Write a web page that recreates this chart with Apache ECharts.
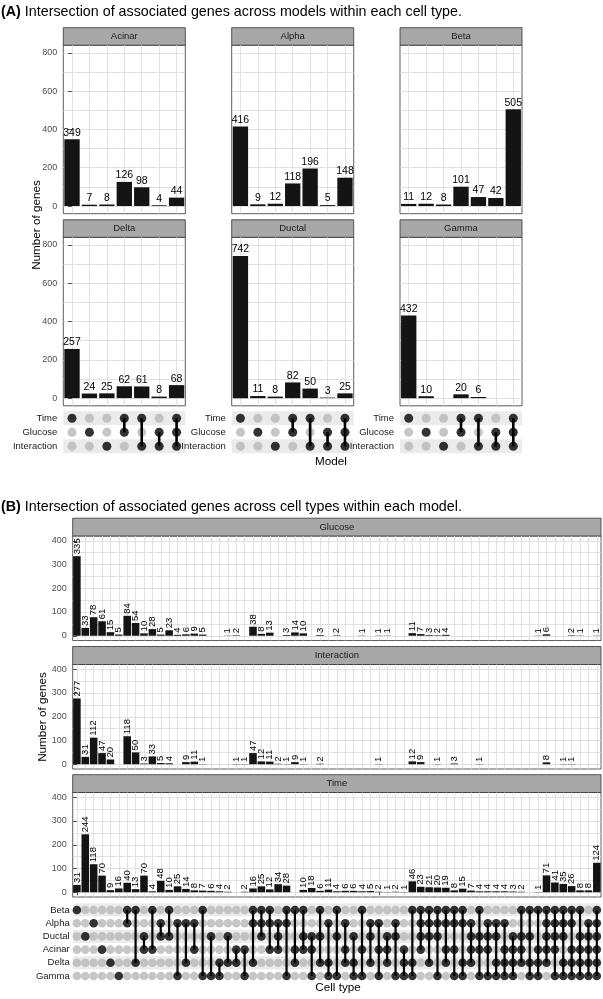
<!DOCTYPE html>
<html>
<head>
<meta charset="UTF-8">
<title>Intersection of associated genes</title>
<script src="https://cdn.jsdelivr.net/npm/echarts@6/dist/echarts.min.js"></script>
<style>
  html, body { margin: 0; padding: 0; background: #fff; }
  #chart { width: 603px; height: 999px; }
</style>
</head>
<body>
<div id="chart"></div>
<script>
// ---- panel A data: genes per model combination, one array per cell type ----
const modelRows = ['Time', 'Glucose', 'Interaction'];
const modelCombos = ['Time', 'Glucose', 'Interaction', 'Time+Glucose', 'Time+Interaction',
  'Glucose+Interaction', 'Time+Glucose+Interaction'];
const acinarCounts = [349, 7, 8, 126, 98, 4, 44];
const alphaCounts = [416, 9, 12, 118, 196, 5, 148];
const betaCounts = [11, 12, 8, 101, 47, 42, 505];
const deltaCounts = [257, 24, 25, 62, 61, 8, 68];
const ductalCounts = [742, 11, 8, 82, 50, 3, 25];
const gammaCounts = [432, 10, null, 20, 6, null, null];
const countTicksA = [0, 200, 400, 600, 800];

// ---- panel B data: genes per cell-type combination, one array per model ----
const cellRows = ['Beta', 'Alpha', 'Ductal', 'Acinar', 'Delta', 'Gamma'];
const cellCombos = [
  'Beta', 'Ductal', 'Alpha', 'Acinar', 'Delta', 'Gamma',
  'Beta+Alpha', 'Beta+Delta', 'Ductal+Acinar', 'Beta+Acinar', 'Alpha+Ductal', 'Beta+Ductal',
  'Alpha+Gamma', 'Alpha+Delta', 'Alpha+Acinar', 'Beta+Gamma', 'Ductal+Gamma', 'Delta+Gamma',
  'Ductal+Delta', 'Acinar+Delta', 'Acinar+Gamma',
  'Beta+Alpha+Delta', 'Beta+Alpha+Ductal', 'Beta+Alpha+Acinar', 'Alpha+Ductal+Acinar',
  'Beta+Alpha+Gamma', 'Beta+Acinar+Delta', 'Beta+Ductal+Acinar', 'Ductal+Acinar+Gamma',
  'Beta+Ductal+Delta', 'Alpha+Delta+Gamma', 'Beta+Ductal+Gamma', 'Alpha+Acinar+Delta',
  'Ductal+Delta+Gamma', 'Beta+Acinar+Gamma', 'Alpha+Ductal+Delta', 'Alpha+Acinar+Gamma',
  'Ductal+Acinar+Delta', 'Alpha+Ductal+Gamma', 'Acinar+Delta+Gamma', 'Beta+Delta+Gamma',
  'Beta+Alpha+Ductal+Acinar', 'Beta+Alpha+Ductal+Delta', 'Beta+Alpha+Ductal+Gamma',
  'Beta+Alpha+Acinar+Delta', 'Beta+Alpha+Acinar+Gamma', 'Beta+Alpha+Delta+Gamma',
  'Alpha+Ductal+Acinar+Delta', 'Beta+Ductal+Acinar+Gamma', 'Alpha+Ductal+Acinar+Gamma',
  'Alpha+Ductal+Delta+Gamma', 'Alpha+Acinar+Delta+Gamma', 'Ductal+Acinar+Delta+Gamma',
  'Beta+Ductal+Acinar+Delta', 'Beta+Ductal+Delta+Gamma', 'Beta+Acinar+Delta+Gamma',
  'Beta+Alpha+Ductal+Acinar+Delta', 'Beta+Alpha+Ductal+Acinar+Gamma',
  'Beta+Alpha+Ductal+Delta+Gamma', 'Beta+Alpha+Acinar+Delta+Gamma',
  'Beta+Ductal+Acinar+Delta+Gamma', 'Alpha+Ductal+Acinar+Delta+Gamma',
  'Beta+Alpha+Ductal+Acinar+Delta+Gamma'
];
const glucoseCounts = [335, 33, 78, 61, 15, 5, 84, 54, 10, 28, 5, 23, 4, 6, 9, 5,
  null, null, 1, 2, null, 38, 8, 13, null, 3, 14, 10, null, 3, null, 2, null, null, 1, null,
  1, 1, null, null, 11, 7, 3, 2, 4, null, null, null, null, null, null, null, null, null, null,
  1, 6, null, null, 2, 1, null, 1];
const interactionCounts = [277, 31, 112, 47, 20, null, 118, 50, 3, 33, 5, 4, null, 9, 11, 1,
  null, null, null, 1, 1, 47, 12, 11, 2, 1, 9, 1, null, 2, null, null, null, null, null, null,
  1, null, null, null, 12, 9, null, 1, null, 3, null, null, 1, null, null, null, null, null, null,
  null, 8, null, 1, 1, null, null, null];
const timeCounts = [31, 244, 118, 70, 9, 16, 40, 13, 70, 4, 48, 10, 25, 14, 8, 7, 6, 4, 2,
  null, 2, 16, 25, 12, 34, 28, null, 10, 18, 6, 11, 4, 6, 6, 4, 5, 2, 1, 2, 1,
  46, 23, 21, 20, 19, 8, 15, 7, 4, 4, 4, 4, 3, 2, null, 1,
  71, 41, 35, 26, 8, 8, 124];
const countTicksB = [0, 100, 200, 300, 400];

// ---- style ----
const FONT = '"Liberation Sans", Arial, Helvetica, sans-serif';
const BAR = '#141414';
const GRIDLINE = '#dadada';
const STRIP = '#a8a8a8';
const BORDER = '#333333';
const DOT_ON = '#000000';
const DOT_OFF = '#b8b8b8';
const BAND = '#ebebeb';

const grids = [], xAxes = [], yAxes = [], series = [], graphic = [];

function text(x, y, str, size, opts) {
  opts = opts || {};
  graphic.push({
    type: 'text', x: x, y: y, rotation: opts.rotation || 0, silent: true,
    style: {
      text: str, font: (opts.weight || 'normal') + ' ' + size + 'px ' + FONT,
      fill: opts.color || '#000', rich: opts.rich,
      align: opts.align || 'center', textAlign: opts.align || 'center',
      verticalAlign: 'middle', textVerticalAlign: 'middle'
    }
  });
}

function strip(x, y, w, h, label) {
  graphic.push({ type: 'rect', silent: true, shape: { x: x, y: y, width: w, height: h },
    style: { fill: STRIP, stroke: BORDER, lineWidth: 0.8 } });
  text(x + w / 2, y + h / 2, label, 9.5, { color: '#1a1a1a' });
}

function barPanel(o) {
  const gi = grids.length;
  grids.push({ left: o.x, top: o.y, width: o.w, height: o.h, show: true,
    borderColor: BORDER, borderWidth: 0.8, backgroundColor: '#fff' });
  const xi = xAxes.length;
  xAxes.push({ type: 'category', gridIndex: gi, data: o.cats,
    axisLine: { show: false }, axisLabel: { show: false },
    axisTick: { show: !!o.xTicks, alignWithLabel: true, length: 3, lineStyle: { color: BORDER, width: 0.8 } },
    splitLine: { show: false } });
  // vertical grid lines at every column centre
  xAxes.push({ type: 'value', gridIndex: gi, position: 'top', min: -0.5, max: o.cats.length - 0.5,
    axisLine: { show: false }, axisLabel: { show: false },
    axisTick: { show: false, customValues: o.cats.map((c, i) => i) },
    splitLine: { show: true, lineStyle: { color: GRIDLINE, width: 0.8 } } });
  const yi = yAxes.length;
  yAxes.push({ type: 'value', gridIndex: gi, min: o.yMin, max: o.yMax,
    axisLine: { show: false },
    axisTick: { show: o.yLabels, length: 4, customValues: o.labelTicks, lineStyle: { color: BORDER, width: 0.8 } },
    axisLabel: { show: o.yLabels, customValues: o.labelTicks, fontSize: 9, fontFamily: FONT,
      color: '#4d4d4d', margin: 6 },
    splitLine: { show: false } });
  // horizontal grid lines (major + minor)
  yAxes.push({ type: 'value', gridIndex: gi, position: 'right', min: o.yMin, max: o.yMax,
    axisLine: { show: false }, axisLabel: { show: false },
    axisTick: { show: false, customValues: o.gridTicks },
    splitLine: { show: true, lineStyle: { color: GRIDLINE, width: 0.8 } } });
  series.push({ type: 'bar', xAxisIndex: xi, yAxisIndex: yi, data: o.values,
    barCategoryGap: o.gap, itemStyle: { color: BAR }, label: o.label, silent: true });
}

function matrixPanel(o) {
  const gi = grids.length;
  grids.push({ left: o.x, top: o.y, width: o.w, height: o.h, show: false });
  const xi = xAxes.length;
  xAxes.push({ type: 'category', gridIndex: gi, data: o.combos,
    axisLine: { show: false }, axisTick: { show: false }, axisLabel: { show: false },
    splitLine: { show: false } });
  const yi = yAxes.length;
  yAxes.push({ type: 'category', gridIndex: gi, data: o.rows, inverse: true,
    axisLine: { show: false }, axisTick: { show: false },
    axisLabel: { fontSize: 9.5, fontFamily: FONT, color: '#1a1a1a', margin: o.labelMargin },
    splitLine: { show: false },
    splitArea: { show: true, areaStyle: { color: [BAND, '#ffffff'] } } });
  const on = [], off = [], links = [];
  o.combos.forEach((c, i) => {
    const members = c.split('+').map(n => o.rows.indexOf(n));
    o.rows.forEach((r, ri) => (members.indexOf(ri) >= 0 ? on : off).push([i, ri]));
    if (members.length > 1) links.push([i, Math.min.apply(null, members), Math.max.apply(null, members)]);
  });
  series.push({ type: 'scatter', xAxisIndex: xi, yAxisIndex: yi, data: off, symbolSize: o.dot,
    itemStyle: { color: DOT_OFF }, z: 2, silent: true });
  series.push({ type: 'custom', xAxisIndex: xi, yAxisIndex: yi, data: links, z: 3, silent: true,
    encode: { x: 0, y: [1, 2] },
    renderItem: function (params, api) {
      const a = api.coord([api.value(0), api.value(1)]);
      const b = api.coord([api.value(0), api.value(2)]);
      return { type: 'line', shape: { x1: a[0], y1: a[1], x2: b[0], y2: b[1] },
        style: { stroke: DOT_ON, lineWidth: o.lineWidth } };
    } });
  series.push({ type: 'scatter', xAxisIndex: xi, yAxisIndex: yi, data: on, symbolSize: o.dot,
    itemStyle: { color: DOT_ON }, z: 4, silent: true });
}

// ---------------- panel A ----------------
text(1, 12, '{b|(A)} Intersection of associated genes across models within each cell type.', 14.3,
  { align: 'left', rich: { b: { fontWeight: 'bold', fontSize: 14.3, fontFamily: FONT } } });

const panelsA = [
  { name: 'Acinar', values: acinarCounts }, { name: 'Alpha', values: alphaCounts },
  { name: 'Beta', values: betaCounts }, { name: 'Delta', values: deltaCounts },
  { name: 'Ductal', values: ductalCounts }, { name: 'Gamma', values: gammaCounts }
];
const colXA = [63.3, 231.7, 400];
const widthA = 122;
const stripYA = [27.7, 219.8];
const plotYA = [45.2, 237.3];
const plotHA = 168.5;
const labelA = { show: true, position: 'top', distance: 1, fontSize: 10.5, fontFamily: FONT, color: '#000' };

panelsA.forEach((p, k) => {
  const c = k % 3, r = Math.floor(k / 3);
  strip(colXA[c], stripYA[r], widthA, plotYA[r] - stripYA[r], p.name);
  barPanel({ x: colXA[c], y: plotYA[r], w: widthA, h: plotHA, cats: modelCombos, values: p.values,
    yMin: -40, yMax: 840, labelTicks: countTicksA, gridTicks: [0, 100, 200, 300, 400, 500, 600, 700, 800],
    yLabels: c === 0, gap: '12%', label: labelA });
});
colXA.forEach(x => {
  matrixPanel({ x: x, y: 411.3, w: widthA, h: 42, combos: modelCombos, rows: modelRows,
    dot: 9, lineWidth: 2.6, labelMargin: 6 });
});
text(37, 225, 'Number of genes', 11.7, { rotation: Math.PI / 2, color: '#000' });
text(331, 462, 'Model', 11.7, { color: '#000' });

// ---------------- panel B ----------------
text(1, 507, '{b|(B)} Intersection of associated genes across cell types within each model.', 14.3,
  { align: 'left', rich: { b: { fontWeight: 'bold', fontSize: 14.3, fontFamily: FONT } } });

const panelsB = [
  { name: 'Glucose', values: glucoseCounts, strip: 518.2, top: 536, ticks: false },
  { name: 'Interaction', values: interactionCounts, strip: 646.5, top: 664.5, ticks: false },
  { name: 'Time', values: timeCounts, strip: 774.7, top: 792.5, ticks: true }
];
const xB = 72.7, widthB = 528.3, plotHB = 104.5;
const labelB = { show: true, position: 'top', rotate: 90, align: 'left', verticalAlign: 'middle',
  distance: 2, fontSize: 9.5, fontFamily: FONT, color: '#000' };
panelsB.forEach(p => {
  strip(xB, p.strip, widthB, p.top - p.strip, p.name);
  barPanel({ x: xB, y: p.top, w: widthB, h: plotHB, cats: cellCombos, values: p.values,
    yMin: -20, yMax: 420, labelTicks: countTicksB,
    gridTicks: [0, 50, 100, 150, 200, 250, 300, 350, 400],
    yLabels: true, gap: '10%', label: labelB, xTicks: p.ticks });
});
matrixPanel({ x: xB, y: 903.4, w: widthB, h: 79.2, combos: cellCombos, rows: cellRows,
  dot: 8.6, lineWidth: 2.2, labelMargin: 3 });
text(42.5, 717, 'Number of genes', 11.7, { rotation: Math.PI / 2, color: '#000' });
text(338, 988, 'Cell type', 11.7, { color: '#000' });

const chart = echarts.init(document.getElementById('chart'));
chart.setOption({
  animation: false,
  textStyle: { fontFamily: FONT },
  grid: grids,
  xAxis: xAxes,
  yAxis: yAxes,
  series: series,
  graphic: graphic
});
</script>
</body>
</html>
